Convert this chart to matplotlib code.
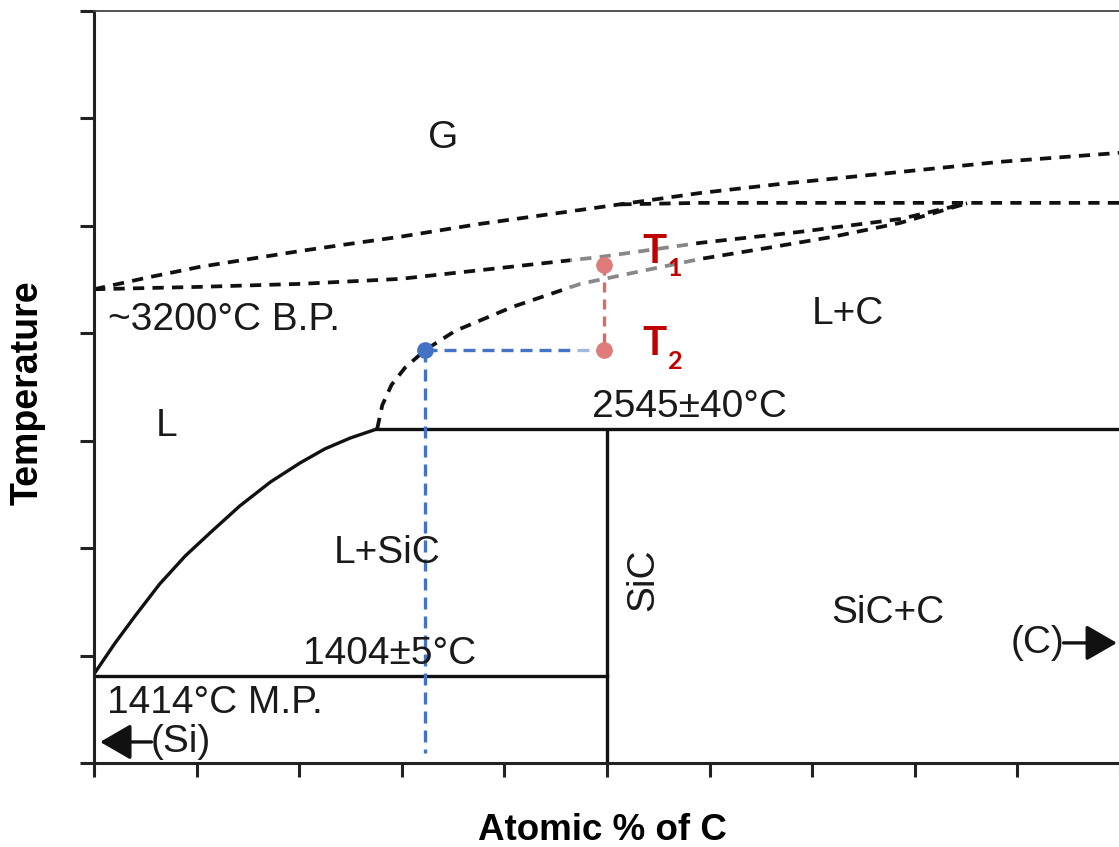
import matplotlib.pyplot as plt
from matplotlib.patches import Rectangle

plt.rcParams['font.family'] = ['Liberation Sans', 'DejaVu Sans']

# Si-rich liquidus (solid), atomic % C vs temperature
liq_x = [0, 2.05, 4.0, 6.4, 8.9, 11.4, 14.2, 17.2, 20.1, 22.5, 25.0, 27.6]
liq_t = [1414, 1558, 1684, 1833, 1964, 2075, 2196, 2308, 2397, 2462, 2513, 2555]

# dashed liquidus above the peritectic
liq2_x = [27.6, 28.1, 29.0, 30.3, 32.3, 35.2, 40.8, 47.4, 53.9, 59.1, 65.6, 72.0, 78.6, 85.1]
liq2_t = [2555, 2666, 2760, 2839, 2923, 3011, 3123, 3230, 3295, 3346, 3397, 3449, 3514, 3605]

# gas boundaries
dew_x = [0, 5.46, 10.3, 15.2, 20.1, 24.9, 29.8, 37.6, 47.4, 59.1, 66.9, 78.6, 88.3, 100]
dew_t = [3205, 3262, 3309, 3346, 3383, 3416, 3449, 3509, 3574, 3653, 3695, 3751, 3798, 3840]
bub_x = [0, 10.3, 20.1, 29.8, 39.6, 49.3, 59.1, 68.8, 78.6, 85.1]
bub_t = [3205, 3216, 3230, 3253, 3304, 3355, 3421, 3472, 3532, 3605]
flat_x = [51.3, 59.1, 100]
flat_t = [3600, 3607, 3607]

peritectic_t = 2555
eutectic_t = 1404
sic_x = 50

# example composition and temperatures
x0, t_liq = 32.3, 2923
x_t, t1, t2 = 49.7, 3318, 2923

fig = plt.figure(figsize=(11.19, 8.47), dpi=100)
ax = fig.add_axes([94 / 1119, 84 / 847, 1026 / 1119, 752 / 847])
ax.set_xlim(0, 100)
ax.set_ylim(1000, 4500)

k = '#111111'
dash = (0, (3.0, 2.2))
ax.plot(liq_x, liq_t, color=k, lw=2.4, zorder=2)
ax.plot([27.6, 100], [peritectic_t, peritectic_t], color=k, lw=2.4, zorder=2)
ax.plot([sic_x, sic_x], [peritectic_t - 5, 1000], color=k, lw=2.4, zorder=2)
ax.plot([0, sic_x], [eutectic_t, eutectic_t], color=k, lw=2.4, zorder=2)
for xs, ts in [(liq2_x, liq2_t), (dew_x, dew_t), (bub_x, bub_t), (flat_x, flat_t)]:
    ax.plot(xs, ts, color=k, lw=2.7, linestyle=dash, zorder=2)

blue = '#4472c4'
ax.plot([x0, x_t], [t_liq, t2], color=blue, lw=2.4, linestyle=(0, (3.6, 2.1)), zorder=2)
ax.plot([x0, x0], [t_liq, 1047], color=blue, lw=2.4, linestyle=(0, (3.6, 2.1)), zorder=2)
ax.plot([x0], [t_liq], 'o', color=blue, ms=11, zorder=5)

# translucent label boxes over the lines
ax.add_patch(Rectangle((46.4, 3180), 12.3, 385, facecolor='white', edgecolor='none', alpha=0.5, zorder=3))
ax.add_patch(Rectangle((46.4, 2780), 12.3, 360, facecolor='white', edgecolor='none', alpha=0.5, zorder=3))

pink = '#e07b7b'
ax.plot([x_t, x_t], [t1, t2], color='#d86a6a', lw=2.4, linestyle=(0, (3.0, 2.1)), zorder=4)
ax.plot([x_t, x_t], [t1, t2], 'o', color=pink, ms=11, zorder=5, linestyle='none')

red = '#c00000'
lab = ['Lato', 'DejaVu Sans']
ax.text(53.4, 3328, 'T', color=red, fontsize=29, fontweight='bold', family=lab, va='baseline', zorder=6)
ax.text(55.9, 3265, '1', color=red, fontsize=18, fontweight='bold', family=lab, va='baseline', zorder=6)
ax.text(53.4, 2899, 'T', color=red, fontsize=29, fontweight='bold', family=lab, va='baseline', zorder=6)
ax.text(55.9, 2836, '2', color=red, fontsize=18, fontweight='bold', family=lab, va='baseline', zorder=6)

fs = 28
tc = '#1a1a1a'
ax.text(34.0, 3909, 'G', fontsize=fs, color=tc, ha='center', va='center')
ax.text(1.36, 3062, '~3200°C B.P.', fontsize=fs, color=tc, ha='left', va='center')
ax.text(7.1, 2569, 'L', fontsize=fs, color=tc, ha='center', va='center')
ax.text(28.6, 1978, 'L+SiC', fontsize=fs, color=tc, ha='center', va='center')
ax.text(20.4, 1507, '1404±5°C', fontsize=fs, color=tc, ha='left', va='center')
ax.text(1.27, 1279, '1414°C M.P.', fontsize=fs, color=tc, ha='left', va='center')
ax.text(5.5, 1098, '(Si)', fontsize=fs, color=tc, ha='left', va='center')
ax.text(48.5, 2657, '2545±40°C', fontsize=fs, color=tc, ha='left', va='center')
ax.text(73.5, 3090, 'L+C', fontsize=fs, color=tc, ha='center', va='center')
ax.text(53.5, 1852, 'SiC', fontsize=fs, color=tc, ha='center', va='center', rotation=90)
ax.text(77.4, 1698, 'SiC+C', fontsize=fs, color=tc, ha='center', va='center')
ax.text(89.3, 1559, '(C)', fontsize=fs, color=tc, ha='left', va='center')

arrow = dict(arrowstyle='-|>,head_length=0.95,head_width=0.55', lw=2.4, color=k,
             shrinkA=0, shrinkB=0, mutation_scale=20)
ax.annotate('', xy=(0.6, 1098), xytext=(5.6, 1098), arrowprops=arrow)
ax.annotate('', xy=(99.7, 1559), xytext=(94.5, 1559), arrowprops=arrow)

ax.set_xticks(range(0, 101, 10))
ax.set_yticks(range(1000, 4501, 500))
ax.set_xticklabels([])
ax.set_yticklabels([])
ax.tick_params(direction='out', length=10, width=2.2, color='#222222')
ax.spines['right'].set_visible(False)
ax.spines['left'].set_linewidth(2.2)
ax.spines['bottom'].set_linewidth(2.2)
ax.spines['top'].set_linewidth(1.3)
for s in ['left', 'bottom']:
    ax.spines[s].set_color('#222222')
ax.spines['top'].set_color('#444444')

fig.text(28 / 1119, 1 - 393 / 847, 'Temperature', rotation=90, ha='center', va='center',
         fontsize=27, fontweight='bold')
fig.text(602 / 1119, 1 - 830 / 847, 'Atomic % of C', ha='center', va='center',
         fontsize=26.5, fontweight='bold')

fig.savefig('out.png', dpi=100)
